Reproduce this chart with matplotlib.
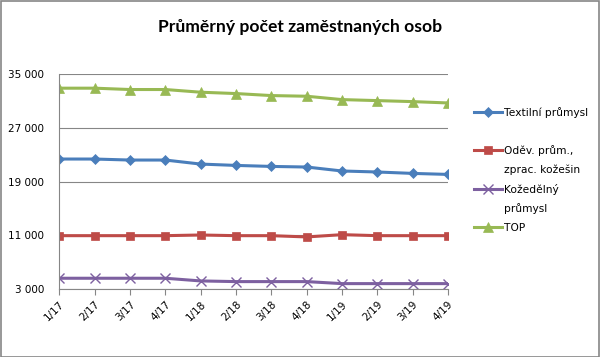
import matplotlib
matplotlib.use("Agg")
import matplotlib.pyplot as plt
from matplotlib.lines import Line2D
from matplotlib.patches import Rectangle

quarters = ["1/17", "2/17", "3/17", "4/17", "1/18", "2/18", "3/18", "4/18",
            "1/19", "2/19", "3/19", "4/19"]
textil = [22350, 22350, 22200, 22200, 21600, 21400, 21250, 21160, 20570, 20420, 20210, 20060]
odev = [10940, 10940, 10940, 10940, 11040, 10940, 10940, 10750, 11090, 10940, 10940, 10940]
kozed = [4600, 4600, 4600, 4600, 4200, 4100, 4100, 4100, 3800, 3800, 3800, 3800]
top = [32900, 32900, 32700, 32700, 32300, 32100, 31800, 31700, 31200, 31050, 30900, 30700]
yticks = [3000, 11000, 19000, 27000, 35000]

# name lines as Excel wraps them in the legend
series = [
    (["Textilní průmysl"], textil, "#4A7EBB", "D", 5),
    (["Oděv. prům.,", "zprac. kožešin"], odev, "#BE4B48", "s", 5.5),
    (["Kožedělný", "průmysl"], kozed, "#7D60A0", "x", 6.5),
    (["TOP"], top, "#98B954", "^", 6.5),
]

plt.rcParams["font.family"] = ["DejaVu Sans"]
fig = plt.figure(figsize=(6, 3.57), dpi=100)
ax = fig.add_axes([0.0988, 0.1905, 0.648, 0.602])

x = list(range(len(quarters)))
blank = Line2D([], [], linestyle="none")
handles, labels = [], []
for i, (name, vals, col, mk, ms) in enumerate(series):
    ln, = ax.plot(x, vals, color=col, lw=2.2, marker=mk, ms=ms, mec=col, mfc=col,
                  mew=1.0 if mk == "x" else 0.5)
    handles.append(ln)
    labels.append(name[0])
    for extra in name[1:]:
        handles.append(blank)
        labels.append(extra)
    if i == 0:
        handles.append(blank)
        labels.append(" ")

ax.set_xlim(0, len(quarters) - 1)
ax.set_ylim(3000, 35000)
ax.set_yticks(yticks)
ax.set_yticklabels([f"{v:,}".replace(",", " ") for v in yticks], fontsize=7.5)
ax.set_xticks(x)
ax.set_xticklabels(quarters, rotation=45, ha="right", rotation_mode="anchor", fontsize=7.5)
ax.tick_params(axis="y", length=0, pad=11)
ax.tick_params(axis="x", length=4, color="#868686", direction="out", pad=3)
ax.grid(axis="y", color="#868686", lw=0.8)
ax.set_axisbelow(True)
for s in ["top", "right"]:
    ax.spines[s].set_visible(False)
for s in ["left", "bottom"]:
    ax.spines[s].set_color("#868686")

fig.text(0.5, 0.925, "Průměrný počet zaměstnaných osob", ha="center", va="center",
         fontsize=12.6, fontweight="bold", family="Lato")

leg = ax.legend(handles, labels, loc="upper left", bbox_to_anchor=(1.056, 0.866),
                frameon=False, fontsize=7.7, handlelength=2.6, handletextpad=0.15,
                labelspacing=0.8, borderaxespad=0)

fig.add_artist(Rectangle((0.001, 0.001), 0.997, 0.996, transform=fig.transFigure,
                         fill=False, edgecolor="#868686", lw=1.2))

fig.savefig("out.png", dpi=100)
